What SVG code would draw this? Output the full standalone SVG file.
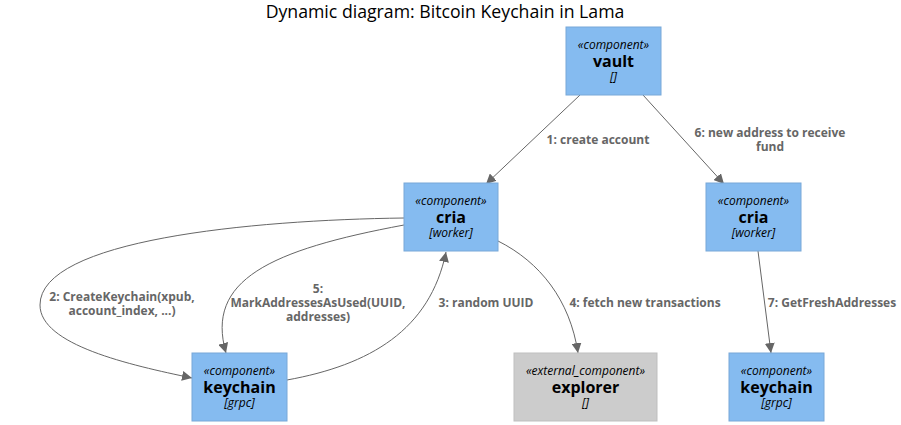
<svg xmlns="http://www.w3.org/2000/svg" width="901" height="425" viewBox="0 0 901 425">
<defs>
<marker id="arr" viewBox="0 0 10 10" refX="10" refY="5" markerWidth="10" markerHeight="10" markerUnits="userSpaceOnUse" orient="auto">
<path d="M0,0 L10,5 L0,10 z" fill="#666666"/>
</marker>
</defs>
<style>
text{font-family:"Open Sans","DejaVu Sans",sans-serif;text-anchor:middle}
.title{font-size:17.7px;fill:#000}
.box{fill:#85BBF0;stroke:#78A8D8;stroke-width:1}
.ext{fill:#CCCCCC;stroke:#BFBFBF;stroke-width:1}
.st{font-size:12px;font-style:italic;fill:#000}
.nm{font-size:16px;font-weight:bold;fill:#000}
.tc{font-size:12px;font-style:italic;fill:#000}
.edge{fill:none;stroke:#666666;stroke-width:1;marker-end:url(#arr)}
.lbl{font-size:12px;font-weight:bold;fill:#666666}
</style>
<rect width="901" height="425" fill="#ffffff"/>
<text class="title" x="445" y="17.5">Dynamic diagram: Bitcoin Keychain in Lama</text>

<g id="connectors">
<path class="edge" d="M580,95 L486,184"/>
<path class="edge" d="M643,95 L724,184"/>
<path class="edge" d="M404,218 C250,220 40,240 40,305 C40,345 130,365 192,378"/>
<path class="edge" d="M404,225 C270,250 205,280 226,353"/>
<path class="edge" d="M287,380 C370,365 430,330 446,252"/>
<path class="edge" d="M498,241 C540,262 570,300 578,353"/>
<path class="edge" d="M758,251 L771,353"/>
<text class="lbl" x="598" y="144">1: create account</text>
<text class="lbl" x="770" y="137">6: new address to receive</text>
<text class="lbl" x="770" y="151">fund</text>
<text class="lbl" x="122" y="301">2: CreateKeychain(xpub,</text>
<text class="lbl" x="122" y="315">account_index, ...)</text>
<text class="lbl" x="318" y="293">5:</text>
<text class="lbl" x="318" y="307">MarkAddressesAsUsed(UUID,</text>
<text class="lbl" x="318" y="321">addresses)</text>
<text class="lbl" x="486" y="307">3: random UUID</text>
<text class="lbl" x="645" y="307">4: fetch new transactions</text>
<text class="lbl" x="832" y="307">7: GetFreshAddresses</text>
</g>

<g id="vault">
<rect class="box" x="566" y="27" width="95" height="68"/>
<text class="st" x="613.5" y="49">«component»</text>
<text class="nm" x="613.5" y="67">vault</text>
<text class="tc" x="613.5" y="81">[]</text>
</g>
<g id="cria1">
<rect class="box" x="404" y="183" width="94" height="68"/>
<text class="st" x="451" y="205">«component»</text>
<text class="nm" x="451" y="223">cria</text>
<text class="tc" x="451" y="237">[worker]</text>
</g>
<g id="cria2">
<rect class="box" x="706" y="183" width="95" height="68"/>
<text class="st" x="753.5" y="205">«component»</text>
<text class="nm" x="753.5" y="223">cria</text>
<text class="tc" x="753.5" y="237">[worker]</text>
</g>
<g id="keychain1">
<rect class="box" x="192" y="353" width="95" height="68"/>
<text class="st" x="239.5" y="375">«component»</text>
<text class="nm" x="239.5" y="393">keychain</text>
<text class="tc" x="239.5" y="407">[grpc]</text>
</g>
<g id="explorer">
<rect class="ext" x="514" y="353" width="143" height="68"/>
<text class="st" x="585.5" y="375">«external_component»</text>
<text class="nm" x="585.5" y="393">explorer</text>
<text class="tc" x="585.5" y="407">[]</text>
</g>
<g id="keychain2">
<rect class="box" x="729" y="353" width="95" height="68"/>
<text class="st" x="776.5" y="375">«component»</text>
<text class="nm" x="776.5" y="393">keychain</text>
<text class="tc" x="776.5" y="407">[grpc]</text>
</g>
</svg>
